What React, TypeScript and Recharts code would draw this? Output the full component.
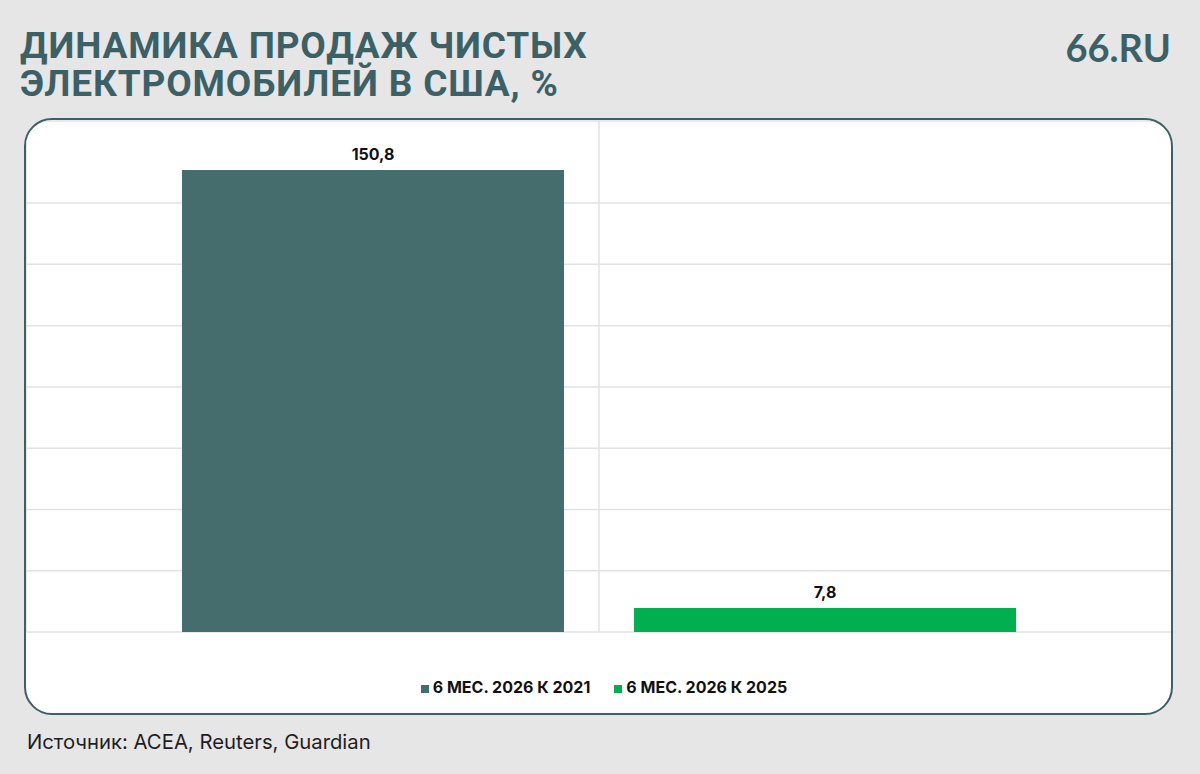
import { Bar, BarChart, CartesianGrid, LabelList, Legend, XAxis, YAxis } from 'recharts';

const CATEGORIES = ['США'];
const SERIES_2021 = [150.8];
const SERIES_2025 = [7.8];
const Y_TICKS = [0, 20, 40, 60, 80, 100, 120, 140];

const TEAL = '#466d6d';
const GREEN = '#00b050';
const INK = '#3b6166';

const rows = CATEGORIES.map((name, i) => ({
  name,
  y2021: SERIES_2021[i],
  y2025: SERIES_2025[i],
}));

const fmt = (v: unknown) => String(v).replace('.', ',');

export default function App() {
  return (
    <div
      style={{
        position: 'absolute',
        left: 0,
        top: 0,
        width: 1200,
        height: 774,
        background: '#e6e6e6',
        fontFamily: 'Roboto, sans-serif',
        overflow: 'hidden',
      }}
    >
      <div
        style={{
          position: 'absolute',
          left: 20,
          top: 27,
          fontSize: 37,
          lineHeight: '38px',
          letterSpacing: 0.85,
          fontWeight: 700,
          color: INK,
          whiteSpace: 'nowrap',
        }}
      >
        ДИНАМИКА ПРОДАЖ ЧИСТЫХ
        <br />
        ЭЛЕКТРОМОБИЛЕЙ В США, %
      </div>
      <div
        style={{
          position: 'absolute',
          right: 29,
          top: 24,
          fontSize: 38,
          fontWeight: 700,
          color: INK,
          fontFamily: 'Lato, sans-serif',
        }}
      >
        66.RU
      </div>
      <div
        style={{
          position: 'absolute',
          left: 24,
          top: 118,
          width: 1145,
          height: 593,
          border: `2px solid ${INK}`,
          borderRadius: 28,
          background: '#fff',
          overflow: 'hidden',
        }}
      >
        <BarChart
          width={1146}
          height={593}
          data={rows}
          margin={{ top: 1, right: 0, bottom: 81, left: 0 }}
          barGap={70}
        >
          <CartesianGrid stroke="#e2e2e2" strokeWidth={1.5} />
          <XAxis dataKey="name" hide />
          <YAxis hide domain={[0, 166.8]} ticks={Y_TICKS} />
          <Legend
            verticalAlign="middle"
            align="center"
            iconType="square"
            iconSize={8}
            wrapperStyle={{ top: 557, left: 17, fontFamily: 'Inter, sans-serif' }}
            formatter={(value) => (
              <span style={{ color: '#111', fontWeight: 700, fontSize: 16, marginRight: 14 }}>{value}</span>
            )}
          />
          <Bar dataKey="y2021" name="6 МЕС. 2026 К 2021" fill={TEAL} barSize={382} isAnimationActive={false}>
            <LabelList
              dataKey="y2021"
              position="top"
              offset={10}
              formatter={fmt}
              fill="#111"
              fontSize={16}
              fontWeight={700}
              fontFamily="Inter, sans-serif"
            />
          </Bar>
          <Bar dataKey="y2025" name="6 МЕС. 2026 К 2025" fill={GREEN} barSize={382} isAnimationActive={false}>
            <LabelList
              dataKey="y2025"
              position="top"
              offset={10}
              formatter={fmt}
              fill="#111"
              fontSize={16}
              fontWeight={700}
              fontFamily="Inter, sans-serif"
            />
          </Bar>
        </BarChart>
      </div>
      <div
        style={{
          position: 'absolute',
          left: 27,
          top: 729,
          fontSize: 20.3,
          color: '#1e1e1e',
          fontFamily: 'Inter, sans-serif',
        }}
      >
        Источник: ACEA, Reuters, Guardian
      </div>
    </div>
  );
}
